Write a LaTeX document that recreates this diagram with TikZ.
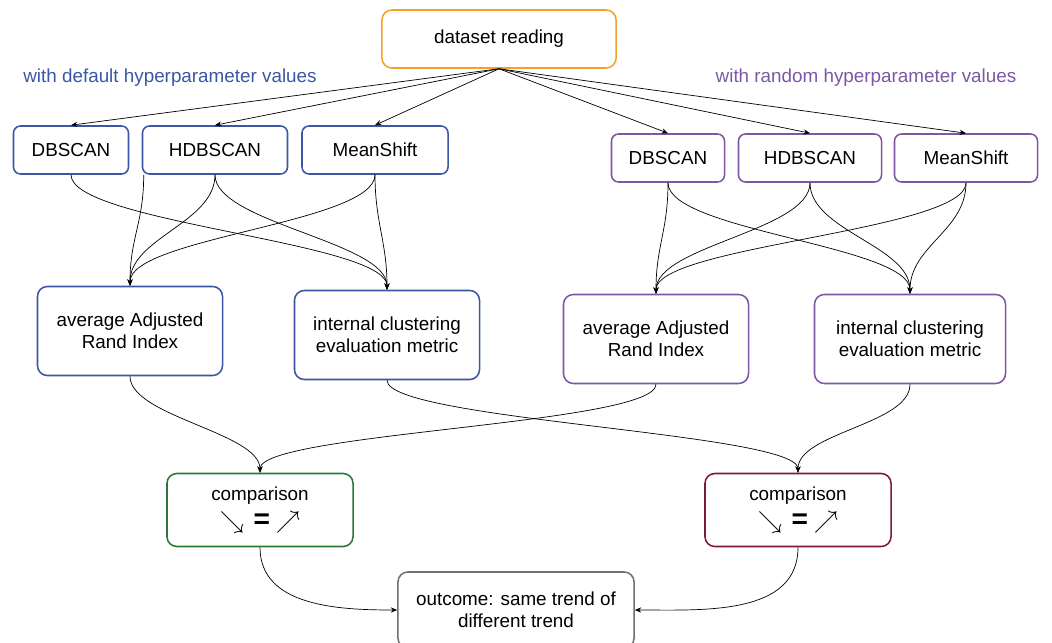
\documentclass[tikz,border=0pt]{standalone}
\usepackage{fontspec}
\setmainfont{Liberation Sans}
\usepackage{xcolor}
\usepackage{tikz}
\usetikzlibrary{arrows.meta}
\definecolor{readorange}{RGB}{245,160,40}
\definecolor{defblue}{RGB}{58,86,165}
\definecolor{randpurple}{RGB}{126,86,164}
\definecolor{cmpgreen}{RGB}{42,120,52}
\definecolor{cmpred}{RGB}{124,24,66}
\definecolor{outgray}{RGB}{112,112,112}
\newcommand{\boxfont}{\fontsize{13.4}{15.5}\selectfont}
\newcommand{\trendline}{{\fontsize{17}{17}\selectfont$\searrow$}\hspace{0.5em}{\bfseries\fontsize{20}{20}\selectfont =}\hspace{0.3em}{\fontsize{17}{17}\selectfont$\nearrow$}}
\tikzset{
  box/.style={draw, rounded corners=7pt, align=center, line width=1.1pt, font=\boxfont, inner sep=0pt, fill=white},
  readbox/.style={box, draw=readorange, minimum width=5.85cm, minimum height=1.45cm},
  algL/.style={box, rounded corners=5pt, draw=defblue, minimum height=1.2cm},
  algR/.style={box, rounded corners=5pt, draw=randpurple, minimum height=1.2cm},
  metL/.style={box, draw=defblue, minimum width=4.625cm, minimum height=2.225cm},
  metR/.style={box, draw=randpurple, minimum width=4.625cm, minimum height=2.225cm},
  cmp/.style={box, minimum width=4.65cm, minimum height=1.825cm},
  outbox/.style={box, draw=outgray, minimum width=5.9cm, minimum height=1.9cm},
  grouplabel/.style={font=\boxfont, inner sep=0pt},
  arr/.style={-{Stealth[length=1.6mm,width=1.3mm]}, line width=0.5pt},
  bend1/.style={to path={.. controls +(0,48) and +(0,-48) .. (\tikztotarget)}},
  bend2/.style={to path={.. controls +(0,40) and +(0,-40) .. (\tikztotarget)}},
}

\begin{document}
\begin{tikzpicture}[x=0.025cm, y=-0.025cm]
  \useasboundingbox (0,0) rectangle (1052,643);
  % reading
  \node[readbox] (read) at (499,39) {dataset reading};
  \node[grouplabel, text=defblue] (lblL) at (170,78) {with default hyperparameter values};
  \node[grouplabel, text=randpurple] (lblR) at (866,78) {with random hyperparameter values};
  % algorithms, default
  \node[algL, minimum width=2.875cm] (dbL) at (71,150) {DBSCAN};
  \node[algL, minimum width=3.625cm] (hdbL) at (215,150) {HDBSCAN};
  \node[algL, minimum width=3.65cm] (msL) at (375,150) {MeanShift};
  % algorithms, random
  \node[algR, minimum width=2.825cm] (dbR) at (668,158) {DBSCAN};
  \node[algR, minimum width=3.575cm] (hdbR) at (810,158) {HDBSCAN};
  \node[algR, minimum width=3.575cm] (msR) at (966,158) {MeanShift};
  % metrics
  \node[metL] (ariL) at (130,331) {average Adjusted\\Rand Index};
  \node[metL] (intL) at (387,335) {internal clustering\\evaluation metric};
  \node[metR] (ariR) at (656,339) {average Adjusted\\Rand Index};
  \node[metR, minimum width=4.775cm] (intR) at (910,339) {internal clustering\\evaluation metric};
  % comparisons
  \node[cmp, draw=cmpgreen] (cmpL) at (260,510) {comparison\\[5pt]\trendline};
  \node[cmp, draw=cmpred] (cmpR) at (798,510) {comparison\\[5pt]\trendline};
  \node[outbox] (out) at (516,610) {outcome: same trend of\\different trend};

  % reading to algorithms
  \foreach \a in {dbL,hdbL,msL,dbR,hdbR,msR}
    \draw[arr] (read.south) -- (\a.north);

  % algorithms to metrics
  \draw[arr] ([xshift=0.05cm]hdbL.south west) to[bend1] (ariL.north);
  \draw[arr] (hdbL.south) to[bend1] (ariL.north);
  \draw[arr] (msL.south) to[bend1] (ariL.north);
  \draw[arr] (dbL.south) to[bend1] (intL.north);
  \draw[arr] (hdbL.south) to[bend1] (intL.north);
  \draw[arr] (msL.south) to[bend1] (intL.north);
  \foreach \a in {dbR,hdbR,msR} {
    \draw[arr] (\a.south) to[bend1] (ariR.north);
    \draw[arr] (\a.south) to[bend1] (intR.north);
  }

  % metrics to comparisons
  \draw[arr] (ariL.south) to[bend2] (cmpL.north);
  \draw[arr] (ariR.south) to[bend2] (cmpL.north);
  \draw[arr] (intL.south) to[bend2] (cmpR.north);
  \draw[arr] (intR.south) to[bend2] (cmpR.north);

  % comparisons to outcome
  \draw[arr] (cmpL.south) to[out=-90,in=180] (out.west);
  \draw[arr] (cmpR.south) to[out=-90,in=0] (out.east);
\end{tikzpicture}
\end{document}
